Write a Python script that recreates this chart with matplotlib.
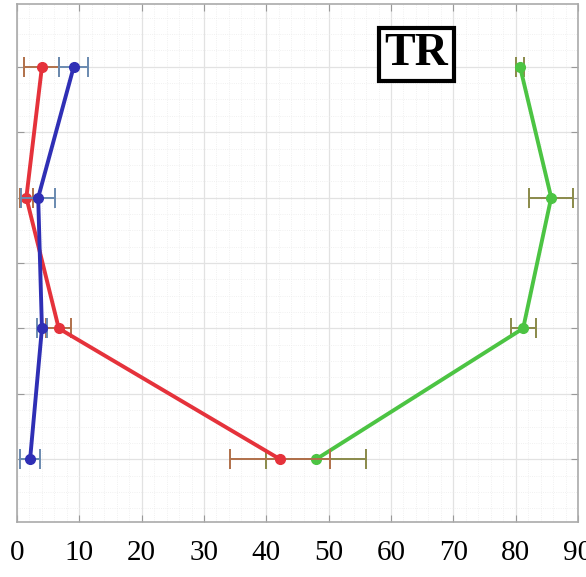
import matplotlib
matplotlib.use("Agg")
from matplotlib import pyplot as plt
from matplotlib.ticker import MultipleLocator

# levels from bottom (1) to top (4)
levels = [4, 3, 2, 1]

red_x = [4.0, 1.5, 6.7, 42.2]
red_err = [2.8, 1.0, 2.0, 8.0]

blue_x = [9.1, 3.4, 4.0, 2.1]
blue_err = [2.3, 2.7, 0.8, 1.6]

green_x = [80.7, 85.7, 81.2, 48.0]
green_err = [0.7, 3.5, 2.0, 8.0]

xticks = [0, 10, 20, 30, 40, 50, 60, 70, 80, 90]

fig = plt.figure(figsize=(5.86, 5.77), dpi=100)
ax = fig.add_axes([17 / 586, 1 - 522 / 577, 561 / 586, 518 / 577])

ax.errorbar(green_x, levels, xerr=green_err, color="#4cc443", ecolor="#8a8a4a",
            lw=2.8, marker="o", ms=7, capsize=7, elinewidth=1.4, capthick=1.4, zorder=3)
ax.errorbar(red_x, levels, xerr=red_err, color="#e5323b", ecolor="#b0704a",
            lw=2.8, marker="o", ms=7, capsize=7, elinewidth=1.4, capthick=1.4, zorder=4)
ax.errorbar(blue_x, levels, xerr=blue_err, color="#2f2fb5", ecolor="#6a8ab0",
            lw=2.8, marker="o", ms=7, capsize=7, elinewidth=1.4, capthick=1.4, zorder=5)

ax.set_xlim(0, 90)
ax.set_ylim(0.52, 4.48)
ax.set_xticks(xticks)
ax.set_xticklabels([str(t) for t in xticks], fontfamily="Liberation Serif", fontsize=21)
ax.yaxis.set_major_locator(MultipleLocator(0.5))
ax.set_yticklabels([])
ax.xaxis.set_minor_locator(MultipleLocator(2))
ax.yaxis.set_minor_locator(MultipleLocator(0.125))
ax.tick_params(which="major", direction="in", top=True, right=True, length=5,
               color="#999999", pad=13)
ax.tick_params(which="minor", length=0)
ax.grid(which="major", color="#e2e2e2", lw=0.9)
ax.grid(which="minor", color="#ececec", lw=0.6, ls=":")
for s in ax.spines.values():
    s.set_color("#aaaaaa")
    s.set_linewidth(1.2)

ax.text(0.655, 0.903, "TR", transform=ax.transAxes, fontfamily="Liberation Serif",
        fontweight="bold", fontsize=33, ha="left", va="center",
        bbox=dict(boxstyle="square,pad=0.12", fc="white", ec="black", lw=3))

fig.savefig("out.png", dpi=100)
